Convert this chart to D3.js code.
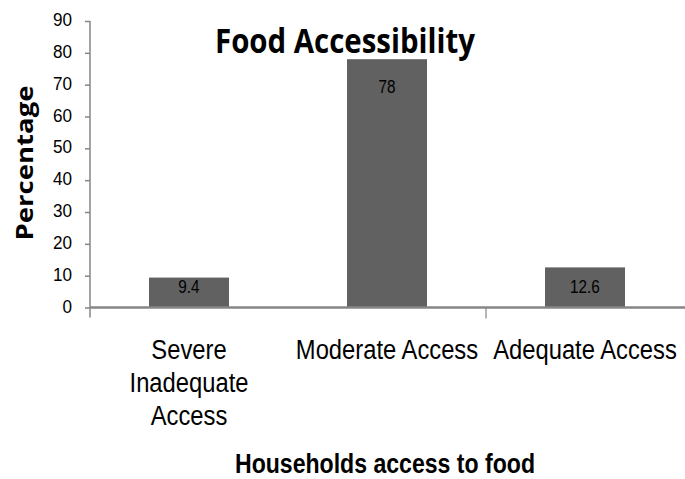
<!DOCTYPE html>
<html lang="en">
<head>
    <meta charset="utf-8">
    <title>Food Accessibility</title>
    <style>
        body { margin: 0; background: #fff; }
        svg text { fill: #000; }
    </style>
    <script src="https://d3js.org/d3.v7.min.js" charset="utf-8"></script>
</head>
<body>
    <svg id="chart" width="685" height="479"></svg>

    <script type="text/javascript">
      // data
      var categories = ["Severe Inadequate Access", "Moderate Access", "Adequate Access"];
      var catLines = [["Severe", "Inadequate", "Access"], ["Moderate Access"], ["Adequate Access"]];
      var values = [9.4, 78, 12.6];
      var yTicks = [0, 10, 20, 30, 40, 50, 60, 70, 80, 90];

      var svg = d3.select("#chart");
      var sans = "'Liberation Sans', Arial, sans-serif";
      var axisColor = "#868686";

      // squeeze a text element to look like a narrow face
      function narrowText(sel, k) {
        sel.each(function() {
          var w = this.getComputedTextLength();
          d3.select(this).attr("textLength", w * k).attr("lengthAdjust", "spacingAndGlyphs");
        });
      }

      var x = d3.scaleBand()
        .domain(categories)
        .range([90, 684])
        .paddingInner(0.596)
        .paddingOuter(0.298);

      var y = d3.scaleLinear()
        .domain([0, 90])
        .range([307.5, 21]);

      // y axis
      var yAxis = svg.append("g")
        .attr("transform", "translate(90,0)")
        .call(d3.axisLeft(y).tickValues(yTicks).tickSize(5).tickSizeOuter(0).tickPadding(13));
      yAxis.select(".domain").attr("stroke", axisColor).attr("stroke-width", 1.5)
        .attr("d", "M0," + y(90) + "V" + (y(0) + 10));
      yAxis.selectAll(".tick line").attr("stroke", axisColor).attr("stroke-width", 1.5);
      yAxis.selectAll(".tick text")
        .attr("font-family", sans)
        .attr("font-size", 18)
        .attr("dy", "0.25em")
        .attr("fill", "#000")
        .call(narrowText, 0.95);

      // bars
      svg.selectAll("rect.bar")
        .data(values)
        .enter().append("rect")
        .attr("class", "bar")
        .attr("x", function(d, i) { return x(categories[i]); })
        .attr("width", x.bandwidth())
        .attr("y", function(d) { return y(d); })
        .attr("height", function(d) { return y(0) - y(d); })
        .attr("fill", "#616161");

      // x axis line
      svg.append("line")
        .attr("x1", 90).attr("x2", 685)
        .attr("y1", y(0)).attr("y2", y(0))
        .attr("stroke", axisColor).attr("stroke-width", 2.5);

      // the one category divider tick visible in the original
      var divX = x(categories[2]) - x.step() * x.paddingInner() / 2;
      svg.append("line")
        .attr("x1", divX).attr("x2", divX)
        .attr("y1", y(0)).attr("y2", y(0) + 11)
        .attr("stroke", axisColor).attr("stroke-width", 1.2);

      // value labels
      svg.selectAll("text.val")
        .data(values)
        .enter().append("text")
        .attr("class", "val")
        .attr("x", function(d, i) { return x(categories[i]) + x.bandwidth() / 2; })
        .attr("y", function(d) { return Math.min(y(d) + 34, y(0) - 15); })
        .attr("text-anchor", "middle")
        .attr("font-family", sans)
        .attr("font-size", 18)
        .attr("fill", "#1a1a1a")
        .text(function(d) { return d; })
        .call(narrowText, 0.85);

      // category labels, one text per line
      catLines.forEach(function(lines, i) {
        lines.forEach(function(s, k) {
          svg.append("text")
            .attr("class", "cat")
            .attr("x", x(categories[i]) + x.bandwidth() / 2)
            .attr("y", 359 + k * 33)
            .attr("text-anchor", "middle")
            .attr("font-family", sans)
            .attr("font-size", 27)
            .text(s)
            .call(narrowText, 0.88);
        });
      });

      // titles
      svg.append("text")
        .attr("x", 345).attr("y", 53)
        .attr("text-anchor", "middle")
        .attr("font-family", "'Open Sans', sans-serif")
        .attr("font-weight", "bold")
        .attr("font-size", 34)
        .attr("textLength", 260)
        .attr("lengthAdjust", "spacingAndGlyphs")
        .text("Food Accessibility");

      svg.append("text")
        .attr("transform", "translate(33,163) rotate(-90)")
        .attr("text-anchor", "middle")
        .attr("font-family", "'Open Sans', sans-serif")
        .attr("font-weight", "bold")
        .attr("font-size", 24)
        .attr("textLength", 155)
        .attr("lengthAdjust", "spacingAndGlyphs")
        .text("Percentage");

      svg.append("text")
        .attr("x", 385).attr("y", 473)
        .attr("text-anchor", "middle")
        .attr("font-family", sans)
        .attr("font-weight", "bold")
        .attr("font-size", 27)
        .attr("textLength", 300)
        .attr("lengthAdjust", "spacingAndGlyphs")
        .text("Households access to food");
    </script>
</body>
</html>
